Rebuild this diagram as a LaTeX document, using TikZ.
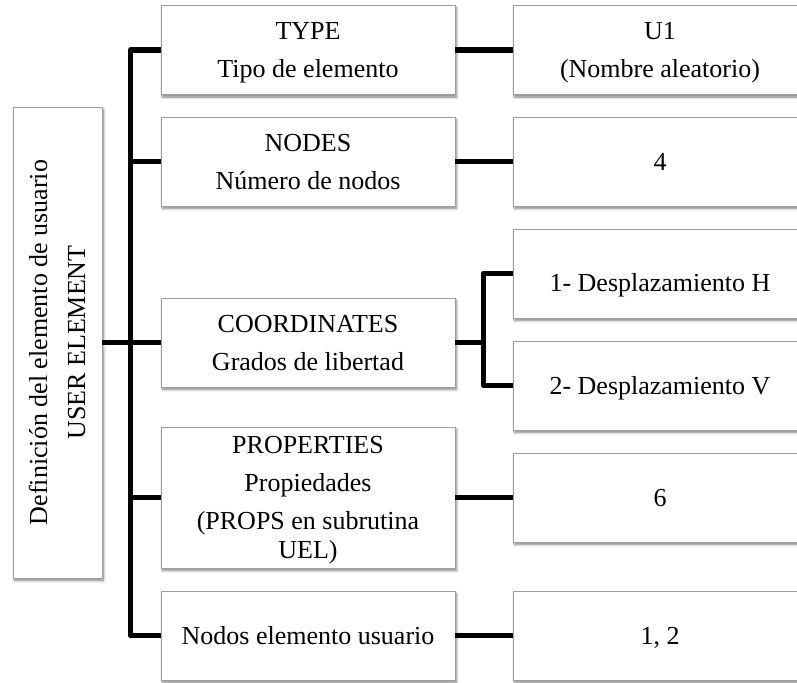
\documentclass[tikz,border=0pt]{standalone}
\usepackage{fontspec}
\setmainfont{Liberation Serif}
\usetikzlibrary{shadows.blur}
% one line of box text: 23pt above the baseline, 6pt below
\newcommand\ls{\rule[-6pt]{0pt}{29pt}}
\tikzset{
  box/.style={draw=black!38, line width=0.9pt, fill=white, inner sep=0pt,
    align=center, font=\fontsize{26}{29}\selectfont,
    blur shadow={shadow xshift=1.5pt, shadow yshift=-2.5pt,
      shadow blur radius=2.5pt, shadow blur steps=6, shadow opacity=50}},
  itembox/.style={box, minimum width=294pt, minimum height=89pt},
  conn/.style={line width=5.5pt, line join=round}
}
\begin{document}
\begin{tikzpicture}[x=1pt, y=-1pt]
\useasboundingbox (0,0) rectangle (797,682);

% root
\node[box, rotate=90, minimum width=471pt, minimum height=89pt] (root) at (57.5,342.5)
  {\ls Definición del elemento de usuario\\[9pt]\ls USER ELEMENT};

% keywords
\node[itembox] (type) at (308,50)
  {\ls TYPE\\[9pt]\ls Tipo de elemento};
\node[itembox] (nodes) at (308,161.5)
  {\ls NODES\\[9pt]\ls Número de nodos};
\node[itembox] (coord) at (308,342.5)
  {\ls COORDINATES\\[9pt]\ls Grados de libertad};
\node[itembox, minimum height=141pt] (props) at (308,497.5)
  {\ls PROPERTIES\\[9pt]\ls Propiedades\\[9pt]\ls (PROPS en subrutina\\\ls UEL)};
\node[itembox] (uelnodes) at (308,635.5)
  {\ls Nodos elemento usuario};

% values
\node[itembox] (u1) at (660,50)
  {\ls U1\\[9pt]\ls (Nombre aleatorio)};
\node[itembox] (four) at (660,161.5) {\ls 4};
\node[itembox] (dh) at (660,273.5)
  {\raisebox{-9pt}[23pt][6pt]{1- Desplazamiento H}};
\node[itembox] (dv) at (660,385.5) {\ls 2- Desplazamiento V};
\node[itembox] (six) at (660,497.5) {\ls 6};
\node[itembox] (onetwo) at (660,635.5) {\ls 1, 2};

% connectors
\draw[conn] (type.west) -- ++(-30,0) |- (uelnodes.west);
\draw[conn] (nodes.west) -- ++(-30,0);
\draw[conn] (props.west) -- ++(-30,0);
\draw[conn] (root.south) -- (coord.west);

\draw[conn] (type.east) -- (u1.west);
\draw[conn] (nodes.east) -- (four.west);
\draw[conn] (props.east) -- (six.west);
\draw[conn] (uelnodes.east) -- (onetwo.west);

\draw[conn] (coord.east) -- ++(28,0) coordinate (fork);
\draw[conn] (dh.west) -| (fork) |- (dv.west);
\end{tikzpicture}
\end{document}
